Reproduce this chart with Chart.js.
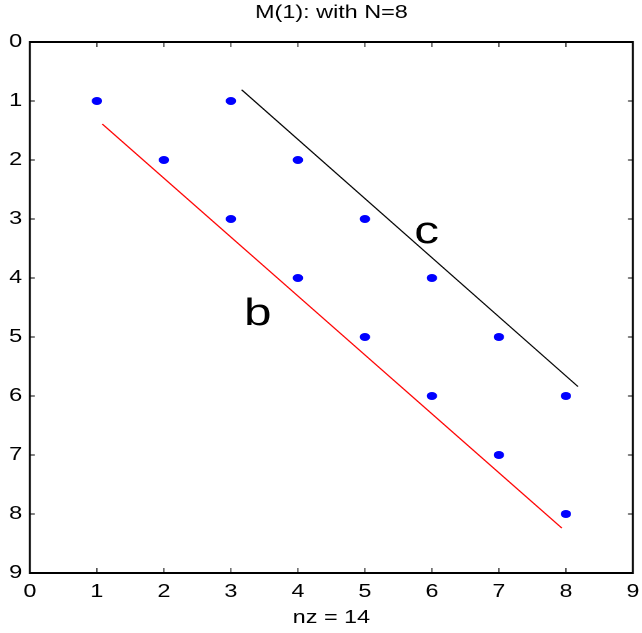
<!DOCTYPE html>
<html>
<head>
<meta charset="utf-8">
<script src="https://cdn.jsdelivr.net/npm/chart.js@4"></script>
<style>
  body { margin: 0; background: #fff; overflow: hidden; }
  /* the original figure was saved wider than it was drawn, so stretch the canvas the same way */
  #wrap { width: 494px; height: 633px; transform: scaleX(1.2996); transform-origin: 0 0; }
</style>
</head>
<body>
<div id="wrap"><canvas id="myChart"></canvas></div>
<script>
const stretch = 642 / 494;

// nonzero entries of M(1): column and row of each one
const cols = [1, 3, 2, 4, 3, 5, 4, 6, 5, 7, 6, 8, 7, 8];
const rows = [1, 1, 2, 2, 3, 3, 4, 4, 5, 5, 6, 6, 7, 8];

// the two hand drawn diagonals
const bLineX = [1.08, 7.94];
const bLineY = [1.39, 8.24];
const cLineX = [3.16, 8.18];
const cLineY = [0.81, 5.84];

// letters next to the diagonals
const noteText = ['c', 'b'];
const noteX = [5.92, 3.40];
const noteY = [3.41, 4.80];

const tickValues = [0, 1, 2, 3, 4, 5, 6, 7, 8, 9];

const toPoints = (xs, ys) => xs.map((x, i) => ({ x: x, y: ys[i] }));

// box round the plot with short inward ticks on all four sides, like matlab
const frame = {
  id: 'frame',
  afterDraw(chart) {
    const { ctx, chartArea: a, scales } = chart;
    const len = 5;
    const vw = 1 / stretch; // vertical strokes get widened by the stretch
    ctx.save();
    ctx.fillStyle = '#000';
    tickValues.forEach(v => {
      const x = scales.x.getPixelForValue(v);
      const y = Math.round(scales.y.getPixelForValue(v));
      ctx.fillRect(x - vw / 2, a.bottom - len, vw, len);
      ctx.fillRect(x - vw / 2, a.top, vw, len);
      ctx.fillRect(a.left, y - 0.5, len / stretch, 1);
      ctx.fillRect(a.right - len / stretch, y - 0.5, len / stretch, 1);
    });
    const w = a.right - a.left;
    const h = a.bottom - a.top;
    ctx.fillRect(a.left, a.top - 1, w, 2);
    ctx.fillRect(a.left, a.bottom - 1, w, 2);
    ctx.fillRect(a.left - vw, a.top - 1, 2 * vw, h + 2);
    ctx.fillRect(a.right - vw, a.top - 1, 2 * vw, h + 2);
    ctx.restore();
  }
};

const notes = {
  id: 'notes',
  afterDatasetsDraw(chart) {
    const { ctx, scales } = chart;
    ctx.save();
    ctx.fillStyle = '#000';
    ctx.font = '38px "Liberation Sans", Arial, sans-serif';
    ctx.textAlign = 'center';
    ctx.textBaseline = 'alphabetic';
    noteText.forEach((t, i) => {
      ctx.fillText(t, scales.x.getPixelForValue(noteX[i]), scales.y.getPixelForValue(noteY[i]));
    });
    ctx.restore();
  }
};

const font = { family: '"Liberation Sans", Arial, sans-serif', size: 18 };

const ctx = document.getElementById('myChart').getContext('2d');
const chart = new Chart(ctx, {
  type: 'scatter',
  data: {
    datasets: [
      {
        label: 'b',
        data: toPoints(bLineX, bLineY),
        showLine: true,
        borderColor: '#ff0000',
        borderWidth: 1.1,
        pointRadius: 0
      },
      {
        label: 'c',
        data: toPoints(cLineX, cLineY),
        showLine: true,
        borderColor: '#000000',
        borderWidth: 1.1,
        pointRadius: 0
      },
      {
        label: 'nonzeros',
        data: toPoints(cols, rows),
        backgroundColor: '#0000ff',
        borderWidth: 0,
        pointRadius: 4
      }
    ]
  },
  options: {
    responsive: true,
    maintainAspectRatio: false,
    animation: false,
    devicePixelRatio: 2,
    layout: { padding: { left: 0, right: 7, top: 0, bottom: 0 } },
    plugins: {
      legend: { display: false },
      tooltip: { enabled: false },
      title: {
        display: true,
        fullSize: false,
        text: 'M(1): with N=8',
        color: '#000',
        font: { family: font.family, size: 18, weight: 'normal' },
        padding: { top: 2, bottom: 18.4 }
      }
    },
    scales: {
      x: {
        type: 'linear',
        min: 0,
        max: 9,
        grid: { display: false, drawTicks: false },
        border: { display: false },
        ticks: { stepSize: 1, color: '#000', font: font, padding: 8, maxRotation: 0 },
        title: { display: true, text: 'nz = 14', color: '#000', font: font, padding: { top: 0, bottom: 4 } },
        afterFit(scale) {
          scale.height = 60;
          scale.paddingLeft = 0;
          scale.paddingRight = 0;
        }
      },
      y: {
        type: 'linear',
        reverse: true,
        min: 0,
        max: 9,
        grid: { display: false, drawTicks: false },
        border: { display: false },
        ticks: { stepSize: 1, color: '#000', font: font, padding: 6 },
        afterFit(scale) { scale.width = 23; }
      }
    }
  },
  plugins: [frame, notes]
});
</script>
</body>
</html>
